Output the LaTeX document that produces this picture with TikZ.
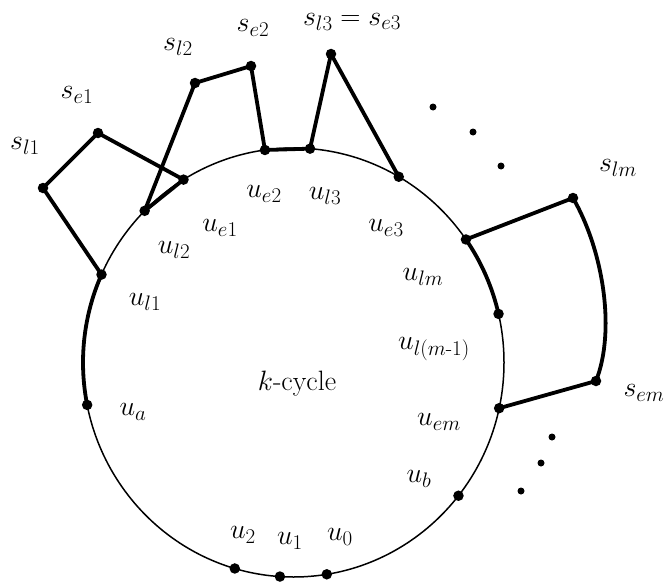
\RequirePackage{fix-cm}
\documentclass[tikz,border=0pt]{standalone}
\usepackage{amsmath}
\DeclareMathSizes{28}{28}{21}{16}
\begin{document}
\begin{tikzpicture}[x=1pt,y=-1pt,
  vtx/.style={circle,fill=black,inner sep=0pt,minimum size=10.5pt},
  elldot/.style={circle,fill=black,inner sep=0pt,minimum size=7pt},
  thickedge/.style={line width=3.8pt,line cap=round,line join=round},
  cyc/.style={line width=1.5pt},
  lbl/.style={inner sep=0pt,font=\fontsize{28}{32}\selectfont}]
\useasboundingbox (0,0) rectangle (668,583);
\def\ecx{293.5}\def\ecy{362.5}\def\erx{210.5}\def\ery{214.5}
\newcommand\onell[2]{\node[vtx] (#1) at ({\ecx+\erx*cos(#2)},{\ecy+\ery*sin(#2)}) {};}
% the cycle
\draw[cyc] (\ecx,\ecy) ellipse[x radius=\erx, y radius=\ery];
% vertices on the cycle
\onell{ul1}{204.2}
\onell{ua}{168.6}
\onell{ul2}{225}
\onell{ue1}{238.5}
\onell{ue2}{262.2}
\onell{ul3}{274.5}
\onell{ue3}{300}
\onell{ulm}{325}
\onell{ulm1}{346.9}
\onell{uem}{12.3}
\onell{ub}{38.4}
\onell{u0}{80.9}
\onell{u1}{93.7}
\onell{u2}{106.2}
% outer vertices
\node[vtx] (sl1) at (43,188) {};
\node[vtx] (se1) at (98,133) {};
\node[vtx] (sl2) at (195,83) {};
\node[vtx] (se2) at (251,66) {};
\node[vtx] (sl3) at (331,54) {};
\node[vtx] (slm) at (573,198) {};
\node[vtx] (sem) at (596,381) {};
% thick edges
\draw[thickedge] (ul1.center) -- (sl1.center) -- (se1.center) -- (ue1.center) -- (ul2.center) -- (sl2.center) -- (se2.center) -- (ue2.center) -- (ul3.center) -- (sl3.center) -- (ue3.center);
\draw[thickedge] (ul1.center) arc[start angle=204.2, end angle=168.6, x radius=\erx, y radius=\ery];
\draw[thickedge] (ulm.center) arc[start angle=325, end angle=346.9, x radius=\erx, y radius=\ery];
\draw[thickedge] (ulm.center) -- (slm.center) .. controls (603,250) and (616,330) .. (sem.center) -- (uem.center);
% ellipsis dots
\node[elldot] (d1) at (433,107) {};
\node[elldot] (d2) at (473,132) {};
\node[elldot] (d3) at (501,166) {};
\node[elldot] (d4) at (552,437) {};
\node[elldot] (d5) at (541,463) {};
\node[elldot] (d6) at (521,491) {};
% labels
\node[lbl] (Lsl1) at (25,146) {$s_{l1}$};
\node[lbl] (Lse1) at (77,95) {$s_{e1}$};
\node[lbl] (Lsl2) at (178,47) {$s_{l2}$};
\node[lbl] (Lse2) at (253,28) {$s_{e2}$};
\node[lbl] (Lsl3) at (352,22) {$s_{l3}=s_{e3}$};
\node[lbl] (Lue2) at (264,194) {$u_{e2}$};
\node[lbl] (Lul3) at (325,196) {$u_{l3}$};
\node[lbl] (Lue1) at (220,228) {$u_{e1}$};
\node[lbl] (Lul2) at (174,250) {$u_{l2}$};
\node[lbl] (Lul1) at (145,302) {$u_{l1}$};
\node[lbl] (Lua) at (133,412) {$u_a$};
\node[lbl] (Lk) at (297,384) {$k$-cycle};
\node[lbl] (Lu2) at (243,535) {$u_2$};
\node[lbl] (Lu1) at (290,541) {$u_1$};
\node[lbl] (Lu0) at (340,537) {$u_0$};
\node[lbl] (Lue3) at (386,228) {$u_{e3}$};
\node[lbl] (Lulm) at (423,277) {$u_{lm}$};
\node[lbl] (Lslm) at (618,168) {$s_{lm}$};
\node[lbl] (Lulm1) at (434,349) {$u_{l(m\text{-}1)}$};
\node[lbl] (Luem) at (439,422) {$u_{em}$};
\node[lbl] (Lsem) at (644,393) {$s_{em}$};
\node[lbl] (Lub) at (419,479) {$u_b$};
\end{tikzpicture}
\end{document}
